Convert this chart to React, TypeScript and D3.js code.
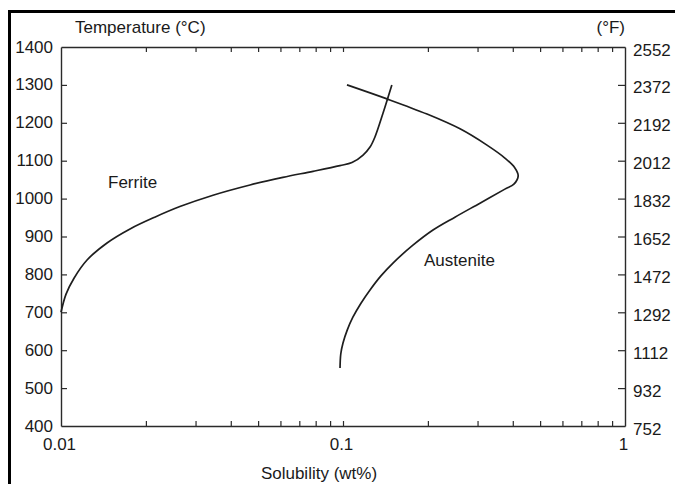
import { useEffect, useRef } from "react";
import * as d3 from "d3";

// solubility curves (wt% vs °C)
const ferriteWt = [0.01, 0.01042, 0.01112, 0.01237, 0.01456, 0.01757, 0.0215, 0.0264, 0.0346, 0.0468, 0.0612, 0.0783, 0.0975, 0.1076, 0.1178, 0.1247, 0.1297, 0.1387, 0.149];
const ferriteT = [700, 748, 790, 838, 883, 920, 951, 979, 1009, 1036, 1056, 1072, 1087, 1095, 1115, 1136, 1162, 1226, 1300];

const austeniteWt = [0.1033, 0.1432, 0.1986, 0.26, 0.324, 0.375, 0.407, 0.418, 0.4036, 0.375, 0.306, 0.2494, 0.2085, 0.177, 0.1504, 0.1363, 0.1247, 0.1158, 0.1084, 0.1035, 0.1, 0.0982, 0.0976];
const austeniteT = [1300, 1263, 1223, 1184, 1141, 1107, 1081, 1060, 1038, 1025, 988, 951, 917, 877, 830, 796, 759, 724, 687, 653, 619, 590, 553];

const celsiusTicks = [400, 500, 600, 700, 800, 900, 1000, 1100, 1200, 1300, 1400];
const fahrenheitLabels = ["752", "932", "1112", "1292", "1472", "1652", "1832", "2012", "2192", "2372", "2552"];
const xMajorTicks = [0.01, 0.1, 1];
const xMinorTicks = [0.02, 0.03, 0.04, 0.05, 0.06, 0.07, 0.08, 0.09, 0.2, 0.3, 0.4, 0.5, 0.6, 0.7, 0.8, 0.9];

const W = 675;
const H = 484;
const FONT = "'Liberation Sans', Arial, Helvetica, sans-serif";
const INK = "#1a1a1a";
const FS = "17px";

export default function App() {
  const ref = useRef<SVGSVGElement>(null);

  useEffect(() => {
    const svg = d3.select(ref.current);
    svg.selectAll("*").remove();

    const left = 61, right = 625, top = 47, bottom = 426;
    const x = d3.scaleLog().domain([0.01, 1]).range([left, right]);
    const y = d3.scaleLinear().domain([400, 1400]).range([bottom, top]);

    // thick scan frame on top and left
    svg.append("line").attr("x1", 9.5).attr("x2", 9.5).attr("y1", 10).attr("y2", H)
      .attr("stroke", "#000").attr("stroke-width", 3);
    svg.append("line").attr("x1", 8).attr("x2", W).attr("y1", 11.5).attr("y2", 11.5)
      .attr("stroke", "#000").attr("stroke-width", 3);

    const allX = [...xMajorTicks, ...xMinorTicks];

    const styleAxis = (g: any) => {
      g.selectAll("path").attr("stroke", "#2a2a2a").attr("stroke-width", 1.4);
      g.selectAll("line").attr("stroke", "#2a2a2a").attr("stroke-width", 1.2);
      g.selectAll("text").attr("fill", INK).style("font-family", FONT).style("font-size", FS);
    };

    // left axis (°C)
    svg.append("g")
      .attr("transform", `translate(${left},0)`)
      .call(d3.axisLeft(y).tickValues(celsiusTicks).tickSizeInner(-6).tickSizeOuter(0).tickPadding(8).tickFormat(d3.format("d")))
      .call(styleAxis)
      .call((g: any) => g.selectAll("text").attr("dy", "5px"))
      .call((g: any) => g.selectAll(".tick line").filter((d: number) => d === 400 || d === 1400).remove());

    // right axis (°F)
    svg.append("g")
      .attr("transform", `translate(${right},0)`)
      .call(d3.axisRight(y).tickValues(celsiusTicks).tickSizeInner(-7).tickSizeOuter(0).tickPadding(8)
        .tickFormat((_d: any, i: number) => fahrenheitLabels[i]))
      .call(styleAxis)
      .call((g: any) => g.selectAll("text").attr("dy", "8px"))
      .call((g: any) => g.selectAll(".tick line").filter((d: number) => d === 400 || d === 1400).remove());

    // bottom axis
    svg.append("g")
      .attr("transform", `translate(0,${bottom})`)
      .call(d3.axisBottom(x).tickValues(allX).tickSizeInner(-5).tickSizeOuter(0).tickPadding(12)
        .tickFormat((d: any) => (xMajorTicks.includes(d) ? String(d) : "")))
      .call(styleAxis)
      .call((g: any) => g.selectAll("text").attr("dx", "-2px"))
      .call((g: any) => g.selectAll(".tick line").filter((d: number) => d === 0.01 || d === 1).remove());

    // top axis
    svg.append("g")
      .attr("transform", `translate(0,${top})`)
      .call(d3.axisTop(x).tickValues(allX).tickSizeInner(-5).tickSizeOuter(0).tickFormat(() => ""))
      .call(styleAxis)
      .call((g: any) => g.selectAll(".tick line").filter((d: number) => d === 0.01 || d === 1).remove());

    // curves
    const line = d3.line<[number, number]>()
      .x((d) => x(d[0]))
      .y((d) => y(d[1]))
      .curve(d3.curveCatmullRom.alpha(0.5));

    const ferrite: [number, number][] = ferriteWt.map((w, i) => [w, ferriteT[i]]);
    const austenite: [number, number][] = austeniteWt.map((w, i) => [w, austeniteT[i]]);

    [ferrite, austenite].forEach((pts) => {
      svg.append("path")
        .attr("d", line(pts))
        .attr("fill", "none")
        .attr("stroke", "#1e1e1e")
        .attr("stroke-width", 1.7);
    });

    // labels
    const label = (t: string, lx: number, ly: number, anchor = "start") =>
      svg.append("text").attr("x", lx).attr("y", ly).attr("text-anchor", anchor)
        .attr("fill", INK).style("font-family", FONT).style("font-size", FS).text(t);

    label("Temperature (°C)", 75, 33);
    label("(°F)", 625, 33, "end");
    label("Solubility (wt%)", 319, 479, "middle");
    label("Ferrite", 108, 188);
    label("Austenite", 424, 266);
  }, []);

  return (
    <svg ref={ref} width={W} height={H} style={{ position: "absolute", left: 0, top: 0, background: "#fff" }} />
  );
}
